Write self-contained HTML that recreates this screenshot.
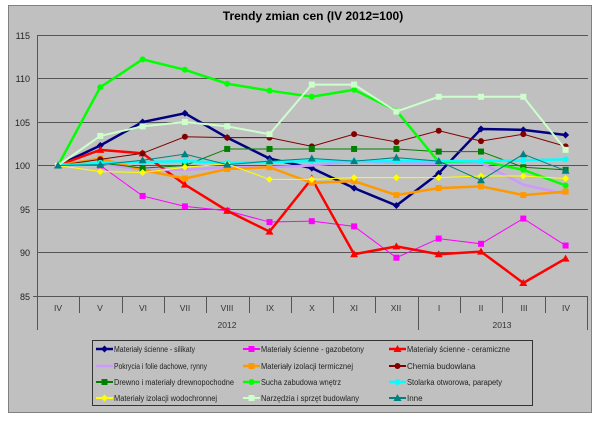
<!DOCTYPE html><html><head><meta charset="utf-8"><style>
body{margin:0;background:#fff;width:600px;height:421px;overflow:hidden}
svg{display:block;font-family:"Liberation Sans",sans-serif}
</style></head><body>
<svg id="s" width="600" height="421" xmlns="http://www.w3.org/2000/svg">
<rect x="8.5" y="5.5" width="583" height="407" fill="#c0c0c0" stroke="#808080"/>
<text x="313" y="20" font-size="12" font-weight="bold" text-anchor="middle">Trendy zmian cen (IV 2012=100)</text>
<g stroke="#555" stroke-width="1">
<line x1="37" y1="35.5" x2="588" y2="35.5"/>
<line x1="37" y1="78.5" x2="588" y2="78.5"/>
<line x1="37" y1="122.5" x2="588" y2="122.5"/>
<line x1="37" y1="165.5" x2="588" y2="165.5"/>
<line x1="37" y1="209.5" x2="588" y2="209.5"/>
<line x1="37" y1="252.5" x2="588" y2="252.5"/>
<line x1="33" y1="296.5" x2="588" y2="296.5"/>
<line x1="37.5" y1="35" x2="37.5" y2="330"/>
<line x1="587.5" y1="296" x2="587.5" y2="330"/>
<line x1="418.5" y1="296" x2="418.5" y2="330"/>
</g>
<g id="sep" stroke="#555"></g>
<g font-size="9" fill="#222" text-anchor="end">
<text x="30" y="39">115</text><text x="30" y="82">110</text><text x="30" y="126">105</text>
<text x="30" y="169">100</text><text x="30" y="213">95</text><text x="30" y="256">90</text><text x="30" y="300">85</text>
</g>
<g font-size="8.5" fill="#333" text-anchor="middle">
<text x="58" y="311">IV</text><text x="100" y="311">V</text><text x="143" y="311">VI</text><text x="185" y="311">VII</text>
<text x="227" y="311">VIII</text><text x="270" y="311">IX</text><text x="312" y="311">X</text><text x="354" y="311">XI</text>
<text x="396" y="311">XII</text><text x="439" y="311">I</text><text x="481" y="311">II</text><text x="524" y="311">III</text><text x="566" y="311">IV</text>
<text x="227" y="328">2012</text><text x="502" y="328">2013</text>
</g>
<g id="series"></g>
<rect x="92.5" y="340.5" width="440" height="65" fill="#c0c0c0" stroke="#333"/>
<g id="leg"></g>
<g font-size="8" fill="#222">
<text x="114" y="352" textLength="81" lengthAdjust="spacingAndGlyphs">Materiały ścienne - silikaty</text>
<text x="261" y="352" textLength="103" lengthAdjust="spacingAndGlyphs">Materiały ścienne - gazobetony</text>
<text x="407" y="352" textLength="103" lengthAdjust="spacingAndGlyphs">Materiały ścienne - ceramiczne</text>
<text x="114" y="369" textLength="93" lengthAdjust="spacingAndGlyphs">Pokrycia i folie dachowe, rynny</text>
<text x="261" y="369" textLength="92" lengthAdjust="spacingAndGlyphs">Materiały izolacji termicznej</text>
<text x="407" y="369">Chemia budowlana</text>
<text x="114" y="385" textLength="120" lengthAdjust="spacingAndGlyphs">Drewno i materiały drewnopochodne</text>
<text x="261" y="385" textLength="80" lengthAdjust="spacingAndGlyphs">Sucha zabudowa wnętrz</text>
<text x="407" y="385" textLength="95" lengthAdjust="spacingAndGlyphs">Stolarka otworowa, parapety</text>
<text x="114" y="401" textLength="103" lengthAdjust="spacingAndGlyphs">Materiały izolacji wodochronnej</text>
<text x="261" y="401" textLength="98" lengthAdjust="spacingAndGlyphs">Narzędzia i sprzęt budowlany</text>
<text x="407" y="401">Inne</text>
</g>
</svg>
<script>
var NS="http://www.w3.org/2000/svg";
function el(t,a,p){var e=document.createElementNS(NS,t);for(var k in a)e.setAttribute(k,a[k]);p.appendChild(e);return e;}
var sep=document.getElementById('sep');
for(var i=0;i<12;i++){var x=Math.round(37+42.3*(i+1))+0.5;el('line',{x1:x,y1:296,x2:x,y2:313},sep);}
var S=[
["#000080",2.5,"d",[100,102.3,105,106,103.2,100.8,99.7,97.4,95.4,99.1,104.2,104.1,103.5]],
["#ff00ff",1,"s",[100,100,96.5,95.3,94.8,93.5,93.6,93,89.4,91.6,91,93.9,90.8]],
["#ff0000",2.5,"t",[100,101.8,101.4,97.8,94.8,92.4,98.5,89.8,90.7,89.8,90.1,86.5,89.3]],
["#cc99ff",2.5,"n",[100,100.2,99.5,99.5,99.8,99.8,100,100.5,100.3,100.2,100.3,97.8,96.7]],
["#ff9900",2.5,"s",[100,100.8,99.5,98.5,99.6,99.8,98,98.2,96.6,97.4,97.6,96.6,97]],
["#800000",1,"c",[100,100.7,101.4,103.3,103.2,103.2,102.2,103.6,102.7,104,102.8,103.6,102.2]],
["#008000",1,"s",[100,100.3,99.7,100,101.9,101.9,101.9,101.9,101.9,101.6,101.6,99.8,99.5]],
["#00ff00",2.5,"c",[100,109,112.2,111,109.4,108.6,107.9,108.7,106.3,100.4,100.5,99.5,97.7]],
["#00ffff",2.5,"c",[100,100.3,100.4,100.5,100.3,100.4,100.5,100.5,100.5,100.5,100.5,100.6,100.7]],
["#ffff00",1,"d",[100,99.3,99.2,99.8,100.2,98.4,98.4,98.6,98.6,98.6,98.8,98.8,98.5]],
["#ccffcc",2,"s",[100,103.4,104.5,105,104.5,103.6,109.3,109.3,106.2,107.9,107.9,107.9,101.8]],
["#008080",1,"t",[100,100.1,100.6,101.3,100.1,100.5,100.8,100.5,100.9,100.5,98.3,101.3,99.4]]];
function mk(type,x,y,c,g){
 if(type=="s")el('rect',{x:x-3,y:y-3,width:6,height:6,fill:c},g);
 else if(type=="d")el('polygon',{points:(x)+","+(y-3.5)+" "+(x+3.5)+","+y+" "+x+","+(y+3.5)+" "+(x-3.5)+","+y,fill:c},g);
 else if(type=="t")el('polygon',{points:x+","+(y-4)+" "+(x+4)+","+(y+3)+" "+(x-4)+","+(y+3),fill:c},g);
 else if(type=="c")el('circle',{cx:x,cy:y,r:3,fill:c},g);
}
var g=document.getElementById('series');
S.forEach(function(s){
 var pts=s[3].map(function(v,i){return [58+42.3*i,165.5-(v-100)*8.7];});
 el('polyline',{points:pts.map(function(p){return p.join(",")}).join(" "),fill:"none",stroke:s[0],"stroke-width":s[1]},g);
 pts.forEach(function(p){mk(s[2],p[0],p[1],s[0],g);});
});
var lg=document.getElementById('leg');
var cx=[96,243,389],cy=[349,366,382,398];
S.forEach(function(s,i){var x=cx[i%3],y=cy[Math.floor(i/3)];
 el('line',{x1:x,y1:y,x2:x+17,y2:y,stroke:s[0],"stroke-width":Math.max(s[1],2)},lg);mk(s[2],x+8.5,y,s[0],lg);});
</script>
</body></html>
